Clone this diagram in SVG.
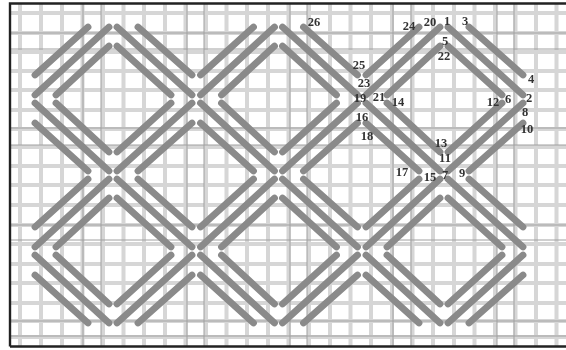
<svg xmlns="http://www.w3.org/2000/svg" width="566" height="350" viewBox="0 0 566 350">
<style>
.soft{filter:url(#b)}
.grid{fill:none;stroke:#d6d6d6;stroke-width:4}
.thin{fill:none;stroke:#a0a0a0;stroke-width:1}
.st{fill:none;stroke:#8a8a8a;stroke-width:6.800;stroke-linecap:round}
.frame{fill:none;stroke:#222;stroke-width:2.4}
text{font-family:"Liberation Serif","Times New Roman",serif;font-size:12.500px;font-weight:bold;fill:#333;text-anchor:middle}
</style>
<defs>
<filter id="b" x="-5%" y="-5%" width="110%" height="110%"><feGaussianBlur stdDeviation="0.45"/></filter>
<path id="d" class="st" d="M88 27 35 75M109 27 35 95M109 46 56 95M117 27 192 95M138 27 192 75M117 46 171 95M35 103 109 171M56 103 109 152M35 123 88 171M171 103 117 152M192 103 117 171M192 123 138 171"/>
</defs>
<rect width="566" height="350" fill="#fff"/>
<g id="grid" class="soft">
<path class="grid" d="M20 4V346M41 4V346M62 4V346M82.500 4V346M103 4V346M123.500 4V346M144 4V346M165 4V346M185.500 4V346M206 4V346M226.500 4V346M247 4V346M268 4V346M288.500 4V346M309 4V346M330 4V346M350.500 4V346M371 4V346M392 4V346M412.500 4V346M433 4V346M454 4V346M474.500 4V346M495 4V346M515.500 4V346M536 4V346M556.500 4V346"/>
<path class="grid" d="M10 13H566M10 33H566M10 52H566M10 71H566M10 90H566M10 110H566M10 129H566M10 147H566M10 166H566M10 185H566M10 205H566M10 225H566M10 244H566M10 264H566M10 283H566M10 303H566M10 321H566M10 337H566"/>
<path class="thin" d="M83 4V346M101 4V346M187 4V346M204 4V346M290 4V346M307 4V346M393 4V346M411 4V346M497 4V346M514 4V346"/>
<path class="thin" d="M10 33H566M10 49H566M10 128H566M10 145H566M10 225H566M10 240H566M10 321H566M10 336H566"/>
</g>
<g id="stitches" class="soft">
<use href="#d"/><use href="#d" x="165.500"/><use href="#d" x="331"/>
<use href="#d" y="152"/><use href="#d" x="165.500" y="152"/><use href="#d" x="331" y="152"/>
</g>
<path class="frame" d="M10 346.500V3.500H566M10 346.500H566"/>
<g id="labels">
<text x="447" y="25">1</text><text x="465" y="25">3</text><text x="430" y="26">20</text><text x="409" y="30">24</text>
<text x="445" y="45">5</text><text x="444" y="60">22</text><text x="359" y="69">25</text><text x="364" y="87">23</text>
<text x="360" y="102">19</text><text x="379" y="101">21</text><text x="398" y="106">14</text><text x="362" y="121">16</text>
<text x="367" y="140">18</text><text x="493" y="106">12</text><text x="508" y="103">6</text><text x="529" y="102">2</text>
<text x="531" y="83">4</text><text x="525" y="116">8</text><text x="527" y="133">10</text><text x="441" y="147">13</text>
<text x="445" y="162">11</text><text x="445" y="179">7</text><text x="430" y="181">15</text><text x="402" y="176">17</text>
<text x="462" y="177">9</text><text x="314" y="26">26</text>
</g>
</svg>
